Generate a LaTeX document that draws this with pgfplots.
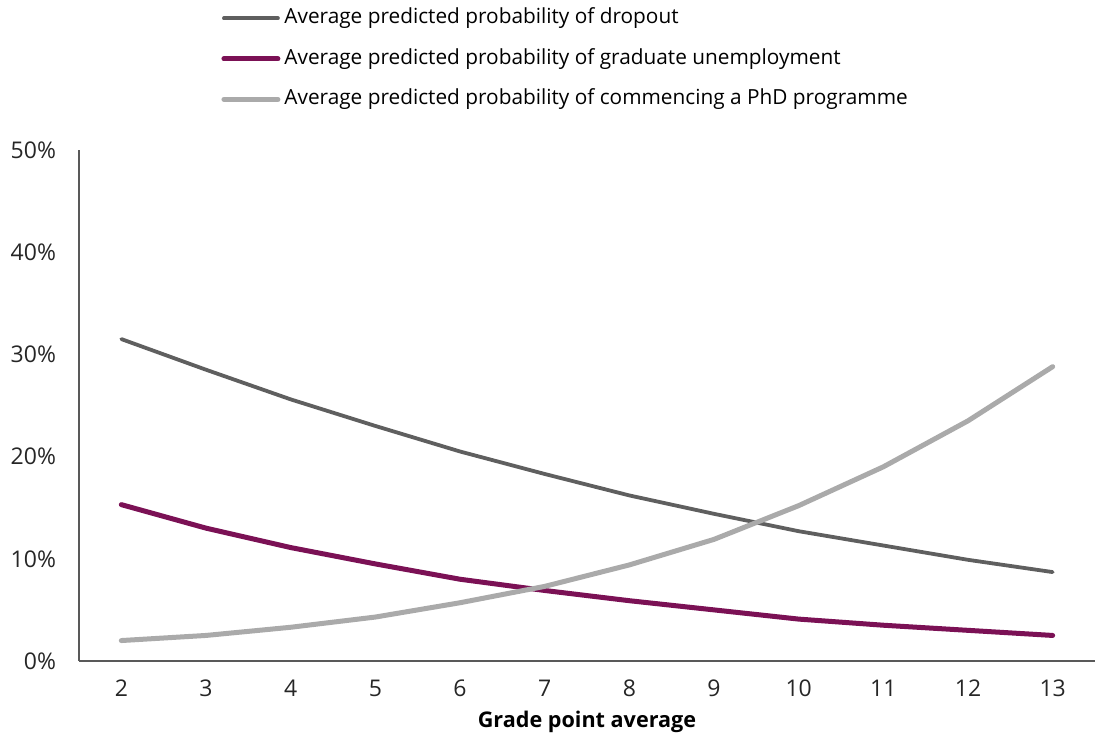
\documentclass[border=0pt]{standalone}
\usepackage{pgfplots}
\pgfplotsset{compat=1.18}
\usepackage{fontspec}
\setmainfont{Open Sans}
\definecolor{dropout}{HTML}{5F5F5F}
\definecolor{unemp}{HTML}{7B1155}
\definecolor{phd}{HTML}{AAAAAA}
\definecolor{axisgray}{HTML}{595959}

\pgfplotstableread{
gpa dropout unemp phd
2  31.5 15.3 2.0
3  28.5 13.0 2.5
4  25.6 11.1 3.3
5  23.0 9.5  4.3
6  20.5 8.0  5.7
7  18.3 6.9  7.3
8  16.2 5.9  9.4
9  14.4 5.0  11.9
10 12.7 4.1  15.2
11 11.3 3.5  19.0
12 9.9  3.0  23.5
13 8.7  2.5  28.8
}\gpadata

\begin{document}
\begin{tikzpicture}
\path[use as bounding box] (-39.5pt,-38.5pt) rectangle (512.5pt,330.5pt);
\begin{axis}[
  at={(0,0)}, anchor=south west,
  scale only axis,
  width=508pt, height=255.5pt,
  xmin=1.5, xmax=13.5,
  ymin=0, ymax=50,
  xtick={2,...,13},
  ytick={0,10,...,50},
  yticklabel={\pgfmathprintnumber{\tick}\%},
  /pgf/number format/assume math mode=true,
  axis lines*=left,
  axis line style={axisgray, line width=0.9pt, -},
  major tick length=0pt,
  tick label style={font=\fontsize{11.5}{13}\selectfont, text=black!85},
  yticklabel style={anchor=east, xshift=-8pt},
  xticklabel style={anchor=center, yshift=-13.5pt},
  xlabel={\textbf{Grade point average}},
  xlabel style={font=\fontsize{10.8}{13}\selectfont,
    at={(axis description cs:0.5,0)}, anchor=center, yshift=-30.5pt},
  legend cell align=left,
  legend style={draw=none, fill=none, inner sep=0pt,
    at={(0.1398,1.277)}, anchor=north west,
    font=\fontsize{10.4}{12}\selectfont,
    nodes={inner sep=0pt, text height=7.5pt, text depth=2pt},
    row sep=10.75pt, column sep=0pt},
  legend image code/.code={\draw[#1] (0pt,0pt) -- (27pt,0pt);},
  /tikz/every odd column/.style={column sep=2pt},
]
\addplot[dropout, line width=1.9pt, line cap=round] table[x=gpa, y=dropout]{\gpadata};
\addlegendentry{Average predicted probability of dropout}
\addplot[unemp, line width=2.5pt, line cap=round] table[x=gpa, y=unemp]{\gpadata};
\addlegendentry{Average predicted probability of graduate unemployment}
\addplot[phd, line width=2.5pt, line cap=round] table[x=gpa, y=phd]{\gpadata};
\addlegendentry{Average predicted probability of commencing a PhD programme}
\end{axis}
\end{tikzpicture}
\end{document}
